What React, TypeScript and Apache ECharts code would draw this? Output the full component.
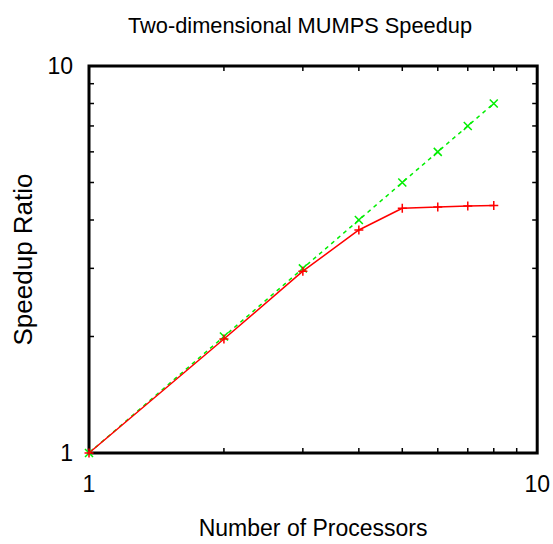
import React, { useEffect, useRef } from "react";
import * as echarts from "echarts";

const processors = [1, 2, 3, 4, 5, 6, 7, 8];
const measuredSpeedup = [1, 1.97, 2.95, 3.77, 4.29, 4.32, 4.35, 4.36];
const idealSpeedup = [1, 2, 3, 4, 5, 6, 7, 8];
const minorTickValues = [2, 3, 4, 5, 6, 7, 8, 9];
const axisMin = 1;
const axisMax = 10;

const font = "'Liberation Sans', Arial, Helvetica, sans-serif";

export default function App() {
  const ref = useRef<HTMLDivElement>(null);
  useEffect(() => {
    if (!ref.current) return;
    const chart = echarts.init(ref.current, null, { renderer: "svg" });
    const tickLen = 5;
    const tickStyle = { stroke: "#000", lineWidth: 1.5 };
    chart.setOption({
      animation: false,
      backgroundColor: "#fff",
      title: {
        text: "Two-dimensional MUMPS Speedup",
        left: 295,
        top: 9,
        textAlign: "center",
        textStyle: { fontFamily: font, fontSize: 21.8, fontWeight: "normal", color: "#000" },
      },
      grid: {
        left: 89,
        right: 15,
        top: 66,
        bottom: 90,
        show: true,
        borderColor: "#000",
        borderWidth: 3,
        backgroundColor: "transparent",
      },
      xAxis: {
        type: "log",
        logBase: 10,
        min: axisMin,
        max: axisMax,
        name: "Number of Processors",
        nameLocation: "middle",
        nameGap: 63,
        nameTextStyle: { fontFamily: font, fontSize: 23, color: "#000" },
        axisLine: { show: false },
        axisTick: { show: false },
        splitLine: { show: false },
        minorTick: { show: false },
        axisLabel: { fontFamily: font, fontSize: 23, color: "#000", margin: 19 },
      },
      yAxis: {
        type: "log",
        logBase: 10,
        min: axisMin,
        max: axisMax,
        name: "Speedup Ratio",
        nameLocation: "middle",
        nameGap: 53,
        nameTextStyle: { fontFamily: font, fontSize: 26, color: "#000" },
        axisLine: { show: false },
        axisTick: { show: false },
        splitLine: { show: false },
        minorTick: { show: false },
        axisLabel: { fontFamily: font, fontSize: 23, color: "#000", margin: 16 },
      },
      series: [
        {
          type: "custom",
          silent: true,
          clip: false,
          data: minorTickValues.map((v) => [v, axisMin]),
          renderItem: (params: any, api: any) => {
            const v = api.value(0);
            const b = api.coord([v, axisMin]);
            const t = api.coord([v, axisMax]);
            return {
              type: "group",
              children: [
                { type: "line", shape: { x1: b[0], y1: b[1], x2: b[0], y2: b[1] - tickLen }, style: tickStyle },
                { type: "line", shape: { x1: t[0], y1: t[1], x2: t[0], y2: t[1] + tickLen }, style: tickStyle },
              ],
            };
          },
        },
        {
          type: "custom",
          silent: true,
          clip: false,
          data: minorTickValues.map((v) => [axisMin, v]),
          renderItem: (params: any, api: any) => {
            const v = api.value(1);
            const l = api.coord([axisMin, v]);
            const r = api.coord([axisMax, v]);
            return {
              type: "group",
              children: [
                { type: "line", shape: { x1: l[0], y1: l[1], x2: l[0] + tickLen, y2: l[1] }, style: tickStyle },
                { type: "line", shape: { x1: r[0], y1: r[1], x2: r[0] - tickLen, y2: r[1] }, style: tickStyle },
              ],
            };
          },
        },
        {
          type: "line",
          name: "measured",
          data: processors.map((p, i) => [p, measuredSpeedup[i]]),
          showAllSymbol: true,
          symbol: "path://M5,0L5,10M0,5L10,5",
          symbolSize: 9,
          lineStyle: { color: "#ff0000", width: 1.5, type: "solid" },
          itemStyle: { color: "#ff0000", borderColor: "#ff0000", borderWidth: 1.5 },
          z: 3,
        },
        {
          type: "line",
          name: "ideal",
          data: processors.map((p, i) => [p, idealSpeedup[i]]),
          showAllSymbol: true,
          symbol: "path://M0,0L10,10M10,0L0,10",
          symbolSize: 8,
          lineStyle: { color: "#00ee00", width: 1.5, type: [4, 4] },
          itemStyle: { color: "#00ee00", borderColor: "#00ee00", borderWidth: 1.5 },
          z: 2,
        },
      ],
    });
    return () => chart.dispose();
  }, []);
  return <div ref={ref} style={{ width: 553, height: 544, position: "absolute", left: 0, top: 0 }} />;
}
